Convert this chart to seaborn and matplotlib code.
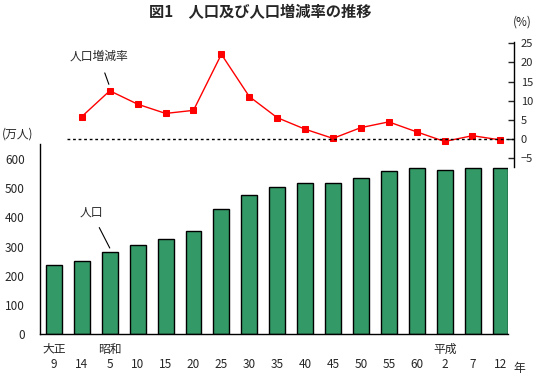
import numpy as np
import pandas as pd
import seaborn as sns
import matplotlib.pyplot as plt
from matplotlib import transforms

# Data (census years, population in 10k people, % change vs previous census)
year_labels = ["9", "14", "5", "10", "15", "20", "25", "30", "35",
               "40", "45", "50", "55", "60", "2", "7", "12"]
era_labels = {0: "大正", 2: "昭和", 14: "平成"}
population = [236, 250, 281, 307, 327, 352, 430, 477, 504,
              517, 518, 534, 558, 568, 564, 569, 568]
growth_rate = [5.9, 12.6, 9.1, 6.7, 7.5, 22.1, 11.1, 5.6,
               2.6, 0.2, 3.0, 4.5, 1.9, -0.6, 0.9, -0.2]

sns.set_style("white")
plt.rcParams['font.family'] = ['Noto Sans CJK JP', 'DejaVu Sans']

fig = plt.figure(figsize=(5.37, 3.75), dpi=100)

# bar chart (population)
ax = fig.add_axes([40 / 537, 41 / 375, 468 / 537, 190 / 375])
df = pd.DataFrame({"year": year_labels, "pop": population})
sns.barplot(data=df, x="year", y="pop", order=year_labels, color="#339966",
            saturation=1, width=0.57, edgecolor="black", linewidth=1, ax=ax)
ax.set_xlim(-0.5, 16.27)
ax.set_ylim(0, 652)
ax.set_yticks(range(0, 700, 100))
ax.set_xlabel("")
ax.set_ylabel("")
for s in ["top", "right"]:
    ax.spines[s].set_visible(False)
for s in ["left", "bottom"]:
    ax.spines[s].set_color("black")
    ax.spines[s].set_linewidth(1)
ax.tick_params(axis="y", direction="in", length=4, width=1, pad=11, labelsize=8.5)
ax.tick_params(axis="x", length=0, pad=17, labelsize=8.5)

trans = transforms.blended_transform_factory(ax.transData, ax.transAxes)
for i, era in era_labels.items():
    ax.text(i, -0.045, era, transform=trans, ha="center", va="top", fontsize=8.5)
ax.text(1.025, -0.145, "年", transform=ax.transAxes, ha="center", va="top", fontsize=8.5)
fig.text(2 / 537, 1 - 134 / 375, "(万人)", ha="left", va="center", fontsize=8.5)

# annotation for bars
ax.annotate("人口", xy=(2, 295), xytext=(1.33, 420), ha="center", va="center",
            fontsize=8.5, arrowprops=dict(arrowstyle="-", color="black", lw=0.8,
                                           shrinkA=5, shrinkB=0))

# line chart (growth rate)
ax2 = fig.add_axes([67 / 537, 208 / 375, 447 / 537, 125 / 375])
ax2.patch.set_alpha(0)
pos = np.arange(1, len(year_labels))
sns.lineplot(x=pos, y=growth_rate, color="red", lw=1, marker="s",
             markersize=4.5, markeredgecolor="red", ax=ax2)
ax2.axhline(0, color="black", ls=(0, (2, 2)), lw=1)
ax2.set_xlim(0.466, 16.49)
ax2.set_ylim(-7.25, 25.3)
ax2.set_yticks(range(-5, 30, 5))
ax2.set_yticklabels(["−5", "0", "5", "10", "15", "20", "25"])
ax2.set_xticks([])
ax2.yaxis.tick_right()
for s in ["top", "left", "bottom"]:
    ax2.spines[s].set_visible(False)
ax2.spines["right"].set_color("black")
ax2.spines["right"].set_linewidth(1)
ax2.tick_params(axis="y", direction="in", length=4, width=1, pad=5, labelsize=8,
                right=True, left=False)
fig.text(522 / 537, 1 - 22 / 375, "(%)", ha="center", va="center", fontsize=8.5)

ax2.annotate("人口増減率", xy=(2, 13.6), xytext=(1.61, 21.5), ha="center", va="center",
             fontsize=8.5, arrowprops=dict(arrowstyle="-", color="black", lw=0.8,
                                            shrinkA=5, shrinkB=2))

fig.text(260 / 537, 0.968, "図1　人口及び人口増減率の推移", ha="center", va="center",
         fontsize=11, fontweight="bold")

fig.savefig("out.png", dpi=100)
